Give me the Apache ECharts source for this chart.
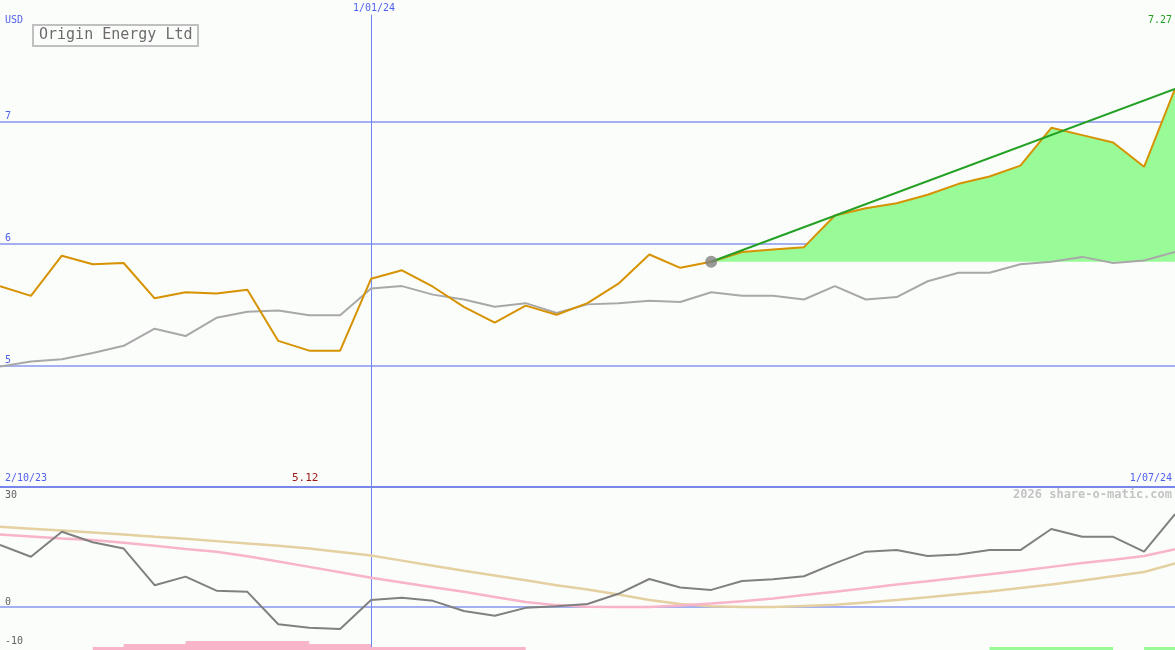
<!DOCTYPE html>
<html><head><meta charset="utf-8">
<script src="https://cdn.jsdelivr.net/npm/echarts@6/dist/echarts.min.js"></script>
<style>html,body{margin:0;padding:0;background:#fbfdfb}#c{width:1175px;height:650px}</style>
</head><body><div id="c"></div><script>
// ---- data ----
const dates = ['9/10/23','16/10/23','23/10/23','30/10/23','6/11/23','13/11/23','20/11/23','27/11/23','4/12/23','11/12/23','18/12/23','25/12/23','1/01/24','8/01/24','15/01/24','22/01/24','29/01/24','5/02/24','12/02/24','19/02/24','26/02/24','4/03/24','11/03/24','18/03/24','25/03/24','1/04/24','8/04/24','15/04/24','22/04/24','29/04/24','6/05/24','13/05/24','20/05/24','27/05/24','3/06/24','10/06/24','17/06/24','24/06/24','1/07/24'];
const close = [5.65,5.57,5.90,5.83,5.84,5.55,5.60,5.59,5.62,5.20,5.12,5.12,5.71,5.78,5.645,5.48,5.35,5.49,5.415,5.51,5.67,5.91,5.80,5.85,5.93,5.95,5.97,6.23,6.29,6.33,6.40,6.49,6.55,6.64,6.95,6.89,6.83,6.63,7.27];
const movingAvg = [4.99,5.03,5.05,5.10,5.16,5.30,5.24,5.39,5.44,5.45,5.41,5.41,5.63,5.65,5.58,5.54,5.48,5.51,5.43,5.50,5.51,5.53,5.52,5.60,5.57,5.57,5.54,5.65,5.54,5.56,5.69,5.76,5.76,5.83,5.85,5.89,5.84,5.86,5.93];
const momentum = [15.9,12.9,19.3,16.6,15.0,5.6,7.8,4.2,3.9,-4.4,-5.3,-5.6,1.8,2.4,1.6,-1.0,-2.2,-0.2,0.2,0.8,3.4,7.2,5.0,4.4,6.7,7.1,7.9,11.2,14.2,14.6,13.1,13.5,14.6,14.6,20.0,18.0,18.0,14.2,23.8];
const pinkSignal = [18.6,18.1,17.6,17.2,16.5,15.7,14.9,14.2,13.0,11.7,10.3,8.9,7.5,6.3,5.1,3.9,2.6,1.3,0.5,0.1,0.0,0.0,0.4,0.9,1.5,2.2,3.1,3.9,4.8,5.8,6.6,7.5,8.4,9.3,10.3,11.3,12.1,13.1,14.8];
const tanSignal = [20.6,20.1,19.6,19.1,18.6,18.0,17.5,16.9,16.3,15.7,15.0,14.1,13.2,11.9,10.6,9.3,8.1,6.9,5.6,4.5,3.2,1.8,0.8,0.2,0.0,0.0,0.3,0.6,1.2,1.8,2.5,3.3,4.0,4.9,5.8,6.8,7.9,9.0,11.2];
// signal strength per weekly interval (interval k runs from dates[k] to dates[k+1])
const pinkBars = [0,0,0,1,2,2,3,3,3,3,2,2,1,1,1,1,1,0,0,0,0,0,0,0,0,0,0,0,0,0,0,0,0,0,0,0,0,0];
const greenBars = [0,0,0,0,0,0,0,0,0,0,0,0,0,0,0,0,0,0,0,0,0,0,0,0,0,0,0,0,0,0,0,0,1,1,1,1,0,1];
const priceTicks = [5,6,7];
const lowerTicks = [-10,0];
const trendIdx = 23;
const markIdx = 12;

// ---- derived ----
const last = dates.length - 1;
const base = dates.map((d,i)=> i>=trendIdx ? close[trendIdx] : null);
const gain = dates.map((d,i)=> i>=trendIdx ? +(close[i]-close[trendIdx]).toFixed(3) : null);
const trend = dates.map((d,i)=> (i===trendIdx || i===last) ? close[i] : null);
const pinkStep = pinkBars.concat([pinkBars[last-1]]);
const greenStep = greenBars.concat([greenBars[last-1]]);

const MONO = '"DejaVu Sans Mono","Liberation Mono",monospace';
const BLUE = '#5060f0';
const GRIDC = '#a4b0f2';
const VLINE = '#7085f5';

const chart = echarts.init(document.getElementById('c'), null, {renderer:'canvas'});
const txt = (o)=>Object.assign({type:'text', silent:true, z:50}, o);
chart.setOption({
  animation:false,
  backgroundColor:'#fbfdfb',
  title:{text:'Origin Energy Ltd', left:33, top:25, padding:[3,6,3,6], borderColor:'#c0c0c0', borderWidth:2,
    textStyle:{fontFamily:MONO, fontSize:15, fontWeight:'normal', color:'#6c6c6c'}},
  grid:[{left:0,right:0,top:0,height:487},{left:0,right:0,top:487,height:163}],
  xAxis:[
    {gridIndex:0,type:'category',data:dates,boundaryGap:false,show:false},
    {gridIndex:1,type:'category',data:dates,boundaryGap:false,show:false}
  ],
  yAxis:[
    {gridIndex:0,type:'value',min:4,max:8,axisLine:{show:false},axisTick:{show:false},splitLine:{show:false},
      axisLabel:{inside:true,customValues:priceTicks,color:BLUE,fontFamily:MONO,fontSize:10,verticalAlign:'bottom',margin:5}},
    {gridIndex:1,type:'value',min:-11,max:30.77,axisLine:{show:false},axisTick:{show:false},splitLine:{show:false},
      axisLabel:{inside:true,customValues:lowerTicks,color:'#606060',fontFamily:MONO,fontSize:10,verticalAlign:'bottom',margin:5}},
    {gridIndex:1,type:'value',min:0,max:54.33,show:false}
  ],
  series:[
    {type:'line',name:'base',z:1,xAxisIndex:0,yAxisIndex:0,stack:'gain',data:base,symbol:'none',lineStyle:{opacity:0},silent:true,
      markLine:{z:1,silent:true,symbol:'none',label:{show:false},animation:false,
        data:[
          {yAxis:5,lineStyle:{color:GRIDC,width:2,type:'solid'}},
          {yAxis:6,lineStyle:{color:GRIDC,width:2,type:'solid'}},
          {yAxis:7,lineStyle:{color:GRIDC,width:2,type:'solid'}},
          [{coord:[dates[markIdx],7.88],lineStyle:{color:VLINE,width:1,type:'solid'}},{coord:[dates[markIdx],4]}]
        ]}},
    {type:'line',name:'gain',z:3,xAxisIndex:0,yAxisIndex:0,stack:'gain',data:gain,symbol:'none',lineStyle:{width:0,opacity:0},
      areaStyle:{color:'#98fb98',opacity:1},silent:true},
    {type:'line',name:'MA',z:4,xAxisIndex:0,yAxisIndex:0,data:movingAvg,symbol:'none',lineStyle:{color:'#a8a8a8',width:2},silent:true},
    {type:'line',name:'Close',z:5,xAxisIndex:0,yAxisIndex:0,data:close,symbol:'none',lineStyle:{color:'#d69200',width:2},silent:true},
    {type:'line',name:'Trend',z:6,xAxisIndex:0,yAxisIndex:0,data:trend,connectNulls:true,symbol:'none',lineStyle:{color:'#24a024',width:2},silent:true},
    {type:'scatter',name:'Start',z:7,xAxisIndex:0,yAxisIndex:0,data:[[dates[trendIdx],close[trendIdx]]],symbolSize:12,
      itemStyle:{color:'#808080'},silent:true},
    {type:'line',name:'Sell',z:2,xAxisIndex:1,yAxisIndex:2,data:pinkStep,step:'end',symbol:'none',lineStyle:{width:0,opacity:0},
      areaStyle:{color:'#f8b4c8',opacity:1},silent:true},
    {type:'line',name:'Buy',z:2,xAxisIndex:1,yAxisIndex:2,data:greenStep,step:'end',symbol:'none',lineStyle:{width:0,opacity:0},
      areaStyle:{color:'#98fb98',opacity:1},silent:true},
    {type:'line',name:'Tan',z:3,xAxisIndex:1,yAxisIndex:1,data:tanSignal,symbol:'none',lineStyle:{color:'#e4d0a0',width:2.5},silent:true,
      markLine:{z:1,silent:true,symbol:'none',label:{show:false},animation:false,
        data:[
          {yAxis:0,lineStyle:{color:GRIDC,width:2,type:'solid'}},
          {yAxis:30.77,lineStyle:{color:'#7886ec',width:2,type:'solid'}},
          {xAxis:dates[markIdx],lineStyle:{color:VLINE,width:1,type:'solid'}}
        ]}},
    {type:'line',name:'Pink',z:4,xAxisIndex:1,yAxisIndex:1,data:pinkSignal,symbol:'none',lineStyle:{color:'#f8b4c8',width:2.5},silent:true},
    {type:'line',name:'Momentum',z:5,xAxisIndex:1,yAxisIndex:1,data:momentum,symbol:'none',lineStyle:{color:'#808080',width:2},silent:true}
  ],
  graphic:[
    txt({left:5,top:15,style:{text:'USD',fill:BLUE,font:'10px '+MONO}}),
    txt({left:353,top:3,style:{text:'1/01/24',fill:BLUE,font:'10px '+MONO}}),
    txt({left:5,top:473,style:{text:'2/10/23',fill:BLUE,font:'10px '+MONO}}),
    txt({left:292,top:473,style:{text:'5.12',fill:'#a01818',font:'11px '+MONO}}),
    txt({right:3,top:473,style:{text:'1/07/24',fill:BLUE,font:'10px '+MONO}}),
    txt({right:3,top:15,style:{text:'7.27',fill:'#22a022',font:'10px '+MONO}}),
    txt({left:5,top:490,style:{text:'30',fill:'#606060',font:'10px '+MONO}}),
    txt({right:3,top:489,style:{text:'2026 share-o-matic.com',fill:'#c4c4c4',font:'bold 12px '+MONO}})
  ]
});
</script></body></html>
